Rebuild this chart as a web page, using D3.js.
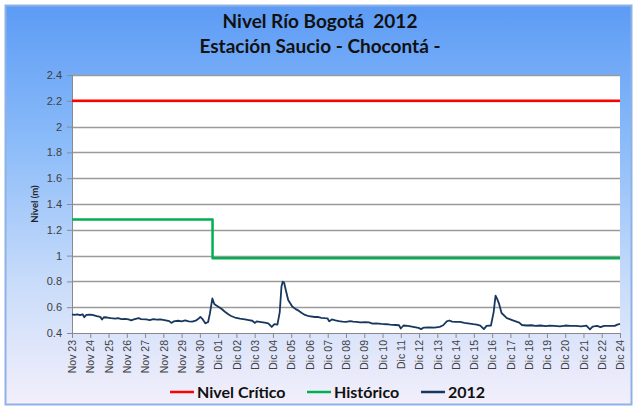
<!DOCTYPE html>
<html>
<head>
<meta charset="utf-8">
<script src="https://cdn.jsdelivr.net/npm/d3@7"></script>
<style>
  body { margin: 0; background: #ffffff; }
  svg { display: block; font-family: Lato, "Open Sans", sans-serif; }
  .ytick text { font-size: 11px; fill: #404040; }
  .xtick text { font-size: 10.5px; fill: #404040; }
</style>
</head>
<body>
<div class="graphbox"></div>
<script>
// etiquetas del eje x (el grafico original no muestra "Dic 23")
var fechas = ["Nov 23","Nov 24","Nov 25","Nov 26","Nov 27","Nov 28","Nov 29","Nov 30",
  "Dic 01","Dic 02","Dic 03","Dic 04","Dic 05","Dic 06","Dic 07","Dic 08","Dic 09","Dic 10",
  "Dic 11","Dic 12","Dic 13","Dic 14","Dic 15","Dic 16","Dic 17","Dic 18","Dic 19","Dic 20",
  "Dic 21","Dic 22","Dic 24"]
var yTicks = [0.4,0.6,0.8,1,1.2,1.4,1.6,1.8,2,2.2,2.4]

// serie 2012: posicion sobre el eje de categorias y nivel (m)
var dias = [0,0.145,0.29,0.435,0.581,0.677,0.774,0.968,1.113,1.355,1.548,1.645,1.742,1.935,2.129,2.371,2.516,2.71,2.903,3.097,3.242,3.387,3.648,3.774,
  4.065,4.258,4.452,4.645,4.839,5.129,5.323,5.439,5.565,5.806,6.0,6.194,6.387,6.581,6.774,6.919,7.026,7.161,7.297,7.452,7.548,7.684,7.79,7.887,
  8.013,8.197,8.371,8.555,8.71,8.923,9.194,9.465,9.677,9.871,10.016,10.113,10.355,10.548,10.742,10.935,11.081,11.245,11.371,11.468,
  11.535,11.613,11.71,11.835,12.058,12.242,12.387,12.581,12.755,12.968,13.297,13.452,13.645,13.839,13.984,14.081,14.226,14.419,14.613,
  14.806,15.0,15.242,15.387,15.581,15.774,16.065,16.258,16.452,16.645,16.935,17.226,17.419,17.71,17.903,18.0,18.145,18.387,18.677,18.968,19.113,
  19.258,19.548,19.839,20.129,20.323,20.516,20.661,20.806,21.0,21.242,21.484,21.677,21.968,22.161,22.355,22.548,22.694,22.935,23.081,23.187,
  23.274,23.371,23.516,23.806,24.097,24.29,24.484,24.629,24.871,25.161,25.355,25.645,25.935,26.129,26.419,26.71,27.0,27.29,27.581,27.871,
  28.161,28.355,28.5,28.742,28.935,29.129,29.419,29.71,29.855,30]
var nivel2012 = [0.545,0.54,0.545,0.538,0.545,0.522,0.54,0.542,0.54,0.53,0.525,0.505,0.522,0.52,0.515,0.512,0.516,0.508,0.51,0.505,0.498,0.505,0.516,0.508,
  0.506,0.5,0.508,0.503,0.505,0.498,0.492,0.478,0.49,0.495,0.49,0.497,0.49,0.488,0.495,0.51,0.525,0.505,0.475,0.485,0.55,0.668,0.625,0.615,
  0.603,0.586,0.565,0.545,0.532,0.52,0.512,0.506,0.5,0.495,0.478,0.49,0.485,0.48,0.475,0.447,0.468,0.465,0.56,0.76,
  0.798,0.79,0.73,0.656,0.605,0.585,0.575,0.555,0.54,0.53,0.524,0.525,0.518,0.515,0.514,0.49,0.505,0.498,0.492,
  0.488,0.486,0.492,0.488,0.487,0.483,0.484,0.482,0.472,0.475,0.47,0.468,0.465,0.462,0.46,0.435,0.458,0.455,0.448,0.44,0.43,
  0.442,0.443,0.442,0.448,0.46,0.49,0.497,0.488,0.487,0.486,0.478,0.475,0.468,0.465,0.458,0.43,0.455,0.458,0.56,0.69,
  0.665,0.63,0.555,0.515,0.5,0.49,0.48,0.462,0.458,0.46,0.455,0.458,0.453,0.457,0.455,0.452,0.458,0.455,0.456,0.452,
  0.457,0.428,0.45,0.455,0.445,0.455,0.455,0.455,0.465,0.47]

// nivel historico (escalon) y nivel critico
var historicoDias = [0,7.694,7.694,30]
var historicoNivel = [1.28,1.28,0.98,0.98]
var criticoDias = [0,30]
var criticoNivel = [2.2,2.2]

var series = [
  {nombre:"Nivel Crítico", color:"#ff0000", ancho:2.5, x:criticoDias, y:criticoNivel},
  {nombre:"Histórico", color:"#00b050", ancho:2.5, x:historicoDias, y:historicoNivel},
  {nombre:"2012", color:"#17375e", ancho:1.8, x:dias, y:nivel2012}
]

var svgWidth = 637;
var svgHeight = 411;
var plot = {left:72, right:620, top:75, bottom:333};

var mysvg = d3.select(".graphbox")
  .append("svg")
  .attr("width", svgWidth)
  .attr("height", svgHeight)
 ;

var grad = mysvg.append("defs").append("linearGradient")
  .attr("id","fondo")
  .attr("x1",0).attr("y1",0).attr("x2",0).attr("y2",1)
 ;
grad.append("stop").attr("offset","0%").attr("stop-color","#5c9bf5");
grad.append("stop").attr("offset","35%").attr("stop-color","#8cbcf9");
grad.append("stop").attr("offset","70%").attr("stop-color","#c9dcfa");
grad.append("stop").attr("offset","100%").attr("stop-color","#f3effb");

mysvg.append("rect")
  .attr("x",5.5).attr("y",5.5)
  .attr("width",626).attr("height",399)
  .attr("fill","url(#fondo)")
  .attr("stroke","#8eb2e6")
  .attr("stroke-width",2)
 ;

var x = d3.scaleLinear().domain([0, fechas.length-1]).range([plot.left, plot.right]);
var y = d3.scaleLinear().domain([0.4, 2.4]).range([plot.bottom, plot.top]);

mysvg.append("rect")
  .attr("x",plot.left).attr("y",plot.top)
  .attr("width",plot.right-plot.left).attr("height",plot.bottom-plot.top)
  .attr("fill","white")
 ;

// lineas de grilla
mysvg.append("g").selectAll("line")
  .data(yTicks.slice(1))
  .enter()
  .append("line")
  .attr("x1",plot.left).attr("x2",plot.right)
  .attr("y1",function(d){ return Math.round(y(d))+0.5; })
  .attr("y2",function(d){ return Math.round(y(d))+0.5; })
  .attr("stroke","#9a9a9a")
  .attr("stroke-width",1.3)
 ;

var yAxis = mysvg.append("g")
  .attr("class","ytick")
  .attr("transform","translate(" + plot.left + ",0)")
  .call(d3.axisLeft(y).tickValues(yTicks).tickSize(5).tickPadding(5).tickFormat(function(d){ return String(d); }))
 ;
yAxis.select(".domain").attr("stroke","#8a8a8a");
yAxis.selectAll(".tick line").attr("stroke","#8a8a8a");

var xAxis = mysvg.append("g")
  .attr("class","xtick")
  .attr("transform","translate(0," + plot.bottom + ")")
  .call(d3.axisBottom(x).tickValues(d3.range(fechas.length)).tickSize(5).tickFormat(function(d){ return fechas[d]; }))
 ;
xAxis.select(".domain").attr("stroke","#8a8a8a");
xAxis.selectAll(".tick line").attr("stroke","#8a8a8a");
xAxis.selectAll(".tick text")
  .attr("transform","rotate(-90)")
  .attr("text-anchor","end")
  .attr("x",-7)
  .attr("y",0)
  .attr("dy","0.35em")
 ;

var linea = d3.line()
  .x(function(d){ return x(d[0]); })
  .y(function(d){ return y(d[1]); })
 ;

mysvg.append("g").selectAll("path")
  .data(series)
  .enter()
  .append("path")
  .attr("d", function(s){ return linea(d3.zip(s.x, s.y)); })
  .attr("fill","none")
  .attr("stroke", function(s){ return s.color; })
  .attr("stroke-width", function(s){ return s.ancho; })
  .attr("stroke-linejoin","round")
 ;

// titulo
var titulo = mysvg.append("text")
  .attr("x",320)
  .attr("font-weight","bold")
  .attr("font-size","19px")
  .attr("fill","#111")
  .attr("text-anchor","middle")
 ;
titulo.append("tspan").attr("x",320).attr("y",28).text("Nivel Río Bogotá  2012").attr("xml:space","preserve");
titulo.append("tspan").attr("x",320).attr("y",53).text("Estación Saucio - Chocontá -");

mysvg.append("text")
  .attr("transform","translate(38," + ((plot.top+plot.bottom)/2) + ") rotate(-90)")
  .attr("text-anchor","middle")
  .attr("font-size","9.5px")
  .attr("font-weight","bold")
  .attr("fill","#222")
  .text("Nivel (m)")
 ;

// leyenda
var legX = [170, 307, 421];
var leg = mysvg.append("g").selectAll("g")
  .data(series)
  .enter()
  .append("g")
  .attr("transform", function(d,i){ return "translate(" + legX[i] + ",392)"; })
 ;
leg.append("line")
  .attr("x1",0).attr("x2",24)
  .attr("stroke", function(d){ return d.color; })
  .attr("stroke-width", 2.5)
 ;
leg.append("text")
  .attr("x",27)
  .attr("dy","0.35em")
  .attr("font-size","16px")
  .attr("font-weight","bold")
  .attr("fill","#111")
  .text(function(d){ return d.nombre; })
 ;
</script>
</body>
</html>
